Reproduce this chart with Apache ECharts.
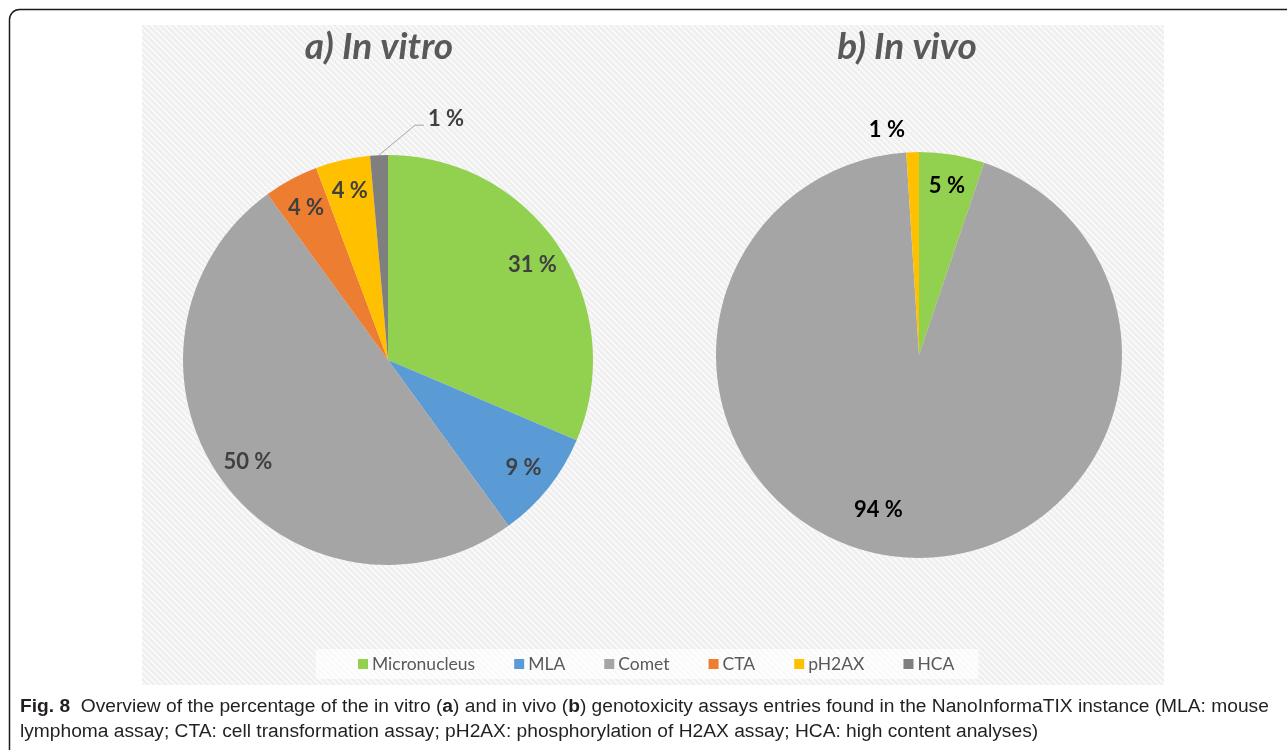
<!DOCTYPE html>
<html>
<head>
<meta charset="utf-8">
<script src="https://cdn.jsdelivr.net/npm/echarts@6/dist/echarts.min.js"></script>
<style>
  html, body { margin: 0; padding: 0; background: #fff; }
  #chart { width: 1287px; height: 750px; }
</style>
</head>
<body>
<div id="chart"></div>
<script>
// data (percent of entries)
const categories = ['Micronucleus', 'MLA', 'Comet', 'CTA', 'pH2AX', 'HCA'];
const inVitro = [31.4, 8.6, 50.0, 4.3, 4.3, 1.4];
const inVivo = [5.2, 0, 93.8, 0, 1.0, 0];
const panelTitles = ['a) In vitro', 'b) In vivo'];
const captionLines = [
  '{b|Fig. 8}  Overview of the percentage of the in vitro ({b|a}) and in vivo ({b|b}) genotoxicity assays entries found in the NanoInformaTIX instance (MLA: mouse',
  'lymphoma assay; CTA: cell transformation assay; pH2AX: phosphorylation of H2AX assay; HCA: high content analyses)'
];

const palette = ['#92d050', '#5b9bd5', '#a5a5a5', '#ed7d31', '#ffc000', '#7f7f7f'];
const FONT = 'Lato, "Open Sans", sans-serif';
const CAPTION_FONT = '"Liberation Sans Narrow", "Liberation Sans", sans-serif';

// light grey background with white diagonal stripes
function hatchPattern() {
  const c = document.createElement('canvas');
  c.width = 6; c.height = 6;
  const ctx = c.getContext('2d');
  ctx.fillStyle = '#efefef';
  ctx.fillRect(0, 0, 6, 6);
  ctx.strokeStyle = '#fbfbfb';
  ctx.lineWidth = 1.6;
  for (let k = -6; k <= 6; k += 6) {
    ctx.beginPath();
    ctx.moveTo(k, 0);
    ctx.lineTo(k + 6, 6);
    ctx.stroke();
  }
  return { image: c, repeat: 'repeat' };
}

const pct = p => Math.round(p.value) + ' %';

function items(values) {
  return categories
    .map((name, i) => ({ name, value: values[i], itemStyle: { color: palette[i] } }))
    .filter(d => d.value > 0);
}

const pies = [
  { values: inVitro, center: [388, 360], r: 205, textColor: '#404040' },
  { values: inVivo, center: [919, 355], r: 203, textColor: '#000000' }
];

const series = [];
// the pies themselves, small slices get an outside label
pies.forEach((p, k) => {
  series.push({
    type: 'pie',
    center: p.center,
    radius: [0, p.r],
    startAngle: 90,
    clockwise: true,
    silent: true,
    animation: false,
    itemStyle: { borderWidth: 0 },
    label: {
      show: true,
      position: 'outside',
      formatter: pct,
      fontFamily: FONT,
      fontWeight: 'bold',
      fontSize: 22,
      color: p.textColor
    },
    labelLine: {
      show: k === 0,
      length: 22,
      length2: 2,
      lineStyle: { color: '#a6a6a6', width: 1 }
    },
    labelLayout: function (params) {
      if (k !== 0 || !params.labelLinePoints) return {};
      const a = params.labelLinePoints[0];
      const b = [a[0] + 36, a[1] - 30];
      const c = [b[0] + 9, b[1]];
      return {
        x: c[0] + 4,
        y: c[1] - 6,
        align: 'left',
        verticalAlign: 'middle',
        labelLinePoints: [a, b, c]
      };
    },
    data: items(p.values).map(d => Object.assign(d, {
      label: { show: d.value < 2 },
      labelLine: { show: k === 0 && d.value < 2 }
    }))
  });
});
// transparent ring used only to place the inside labels near the rim
pies.forEach((p, k) => {
  series.push({
    type: 'pie',
    center: p.center,
    radius: [p.r * 0.66, p.r],
    startAngle: 90,
    clockwise: true,
    silent: true,
    animation: false,
    itemStyle: { color: 'rgba(0,0,0,0)' },
    label: {
      position: 'inside',
      formatter: pct,
      fontFamily: FONT,
      fontWeight: 'bold',
      fontSize: 22,
      color: p.textColor
    },
    labelLine: { show: false },
    labelLayout: function (params) {
      // big in-vivo slice: label sits left of the bisector and nearer the centre
      if (k === 1 && params.dataIndex === 1) return { dx: -18, dy: -15 };
      return {};
    },
    data: items(p.values).map(d => ({
      name: d.name,
      value: d.value,
      itemStyle: { color: 'rgba(0,0,0,0)' },
      label: { show: d.value >= 2 }
    }))
  });
});

const chart = echarts.init(document.getElementById('chart'), null, { renderer: 'canvas' });
chart.setOption({
  animation: false,
  backgroundColor: '#ffffff',
  graphic: [
    {
      type: 'rect', z: -10, silent: true,
      shape: { x: 9.5, y: 9.5, width: 1320, height: 800, r: 10 },
      style: { fill: '#ffffff', stroke: '#1a1a1a', lineWidth: 1.5 }
    },
    {
      type: 'rect', z: -9, silent: true,
      shape: { x: 142, y: 25, width: 1022, height: 660 },
      style: { fill: hatchPattern() }
    },
    {
      type: 'text', silent: true,
      style: { x: 379, y: 47, text: panelTitles[0], align: 'center', verticalAlign: 'middle',
        fontFamily: FONT, fontWeight: 'bold', fontStyle: 'italic', fontSize: 37, fill: '#595959' }
    },
    {
      type: 'text', silent: true,
      style: { x: 907, y: 47, text: panelTitles[1], align: 'center', verticalAlign: 'middle',
        fontFamily: FONT, fontWeight: 'bold', fontStyle: 'italic', fontSize: 37, fill: '#595959' }
    },
    {
      type: 'text', left: 20, top: 694, silent: true,
      style: {
        text: captionLines.join('\n'),
        fontFamily: CAPTION_FONT,
        fontSize: 19.2, lineHeight: 25, fill: '#231f20',
        rich: { b: { fontWeight: 'bold', fontFamily: CAPTION_FONT, fontSize: 19.2, fill: '#231f20' } }
      }
    }
  ],
  legend: {
    data: categories,
    left: 316,
    top: 649,
    padding: [6, 24, 6, 42],
    backgroundColor: 'rgba(255,255,255,0.7)',
    icon: 'rect',
    itemWidth: 10,
    itemHeight: 10,
    itemGap: 39,
    selectedMode: false,
    textStyle: { fontFamily: FONT, fontSize: 17.5, color: '#595959', padding: [0, 0, 0, -1] }
  },
  series
});
</script>
</body>
</html>
